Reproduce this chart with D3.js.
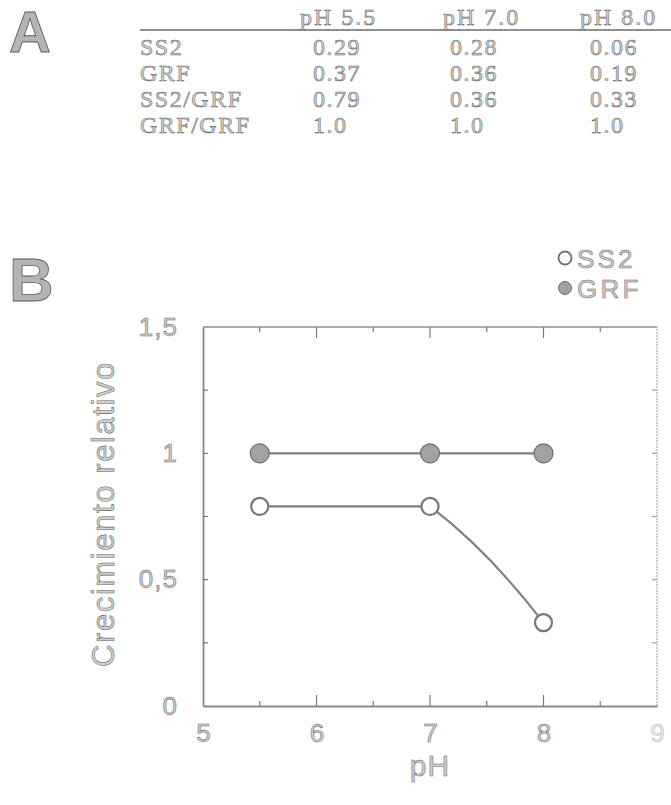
<!DOCTYPE html>
<html>
<head>
<meta charset="utf-8">
<script src="https://cdn.jsdelivr.net/npm/d3@7"></script>
<style>
  html, body { margin: 0; padding: 0; background: #fff; }
  svg { display: block; }
</style>
</head>
<body>
<svg id="fig" width="671" height="805"></svg>
<script>
// Panel A: growth table
const tableColumns = ["pH 5.5", "pH 7.0", "pH 8.0"];
const tableRows = ["SS2", "GRF", "SS2/GRF", "GRF/GRF"];
const tableValues = [
  ["0.29", "0.28", "0.06"],
  ["0.37", "0.36", "0.19"],
  ["0.79", "0.36", "0.33"],
  ["1.0", "1.0", "1.0"]
];

// Panel B: relative growth vs pH
const phValues = [5.5, 7.0, 8.0];
const ss2Values = [0.79, 0.79, 0.33];
const grfValues = [1.0, 1.0, 1.0];
const xTicks = [5, 6, 7, 8, 9];
const yTicks = [0, 0.5, 1, 1.5];

const svg = d3.select("#fig");
const serif = "'Liberation Serif', 'Times New Roman', serif";
const sans = "'Liberation Sans', Arial, sans-serif";

// outlined, light-filled text
function inked(sel, fill, stroke, sw) {
  return sel.attr("fill", fill).attr("stroke", stroke).attr("stroke-width", sw);
}
const TXT_FILL = "#cfcfcf", TXT_STROKE = "#6a6a6a", TXT_SW = 0.55;

// ---------- Panel A ----------
inked(svg.append("text").attr("x", 9).attr("y", 52)
  .attr("font-family", sans).attr("font-weight", "bold").attr("font-size", 58)
  .text("A"), "#b4b4b4", "#5a5a5a", 0.8);

const colX = [300, 443, 580];
const valX = [313, 450, 590];
const rowY = [55, 81, 107, 133];

svg.append("line").attr("x1", 140).attr("x2", 671).attr("y1", 30).attr("y2", 30)
  .attr("stroke", "#6a6a6a").attr("stroke-width", 1.6);

svg.append("g").selectAll("text").data(tableColumns).join("text")
  .attr("x", (d, i) => colX[i]).attr("y", 25)
  .attr("font-family", serif).attr("font-size", 24).attr("letter-spacing", 2)
  .text(d => d)
  .call(s => inked(s, TXT_FILL, TXT_STROKE, TXT_SW));

const rowsG = svg.append("g");
rowsG.selectAll("text.rl").data(tableRows).join("text").attr("class", "rl")
  .attr("x", 140).attr("y", (d, i) => rowY[i])
  .attr("font-family", serif).attr("font-size", 24).attr("letter-spacing", 1.5)
  .text(d => d)
  .call(s => inked(s, TXT_FILL, TXT_STROKE, TXT_SW));

tableValues.forEach((row, r) => {
  rowsG.append("g").selectAll("text").data(row).join("text")
    .attr("x", (d, c) => valX[c]).attr("y", rowY[r])
    .attr("font-family", serif).attr("font-size", 24).attr("letter-spacing", 1.5)
    .text(d => d)
    .call(s => inked(s, TXT_FILL, TXT_STROKE, TXT_SW));
});

// ---------- Panel B ----------
inked(svg.append("text").attr("x", 9).attr("y", 301)
  .attr("font-family", sans).attr("font-weight", "bold").attr("font-size", 62)
  .text("B"), "#b4b4b4", "#5a5a5a", 0.8);

const margin = { left: 203, right: 657, top: 327, bottom: 706 };
const x = d3.scaleLinear().domain([5, 9]).range([margin.left, margin.right]);
const y = d3.scaleLinear().domain([0, 1.5]).range([margin.bottom, margin.top]);

const locale = d3.formatLocale({ decimal: ",", thousands: ".", grouping: [3], currency: ["", ""] });
const fmt = locale.format("~g");

// frame: top and right edges
const frame = svg.append("g");
frame.append("line").attr("x1", x(5)).attr("x2", x(9)).attr("y1", y(1.5)).attr("y2", y(1.5))
  .attr("stroke", "#8e8e8e").attr("stroke-width", 1.6);
frame.append("line").attr("x1", x(9)).attr("x2", x(9)).attr("y1", y(0)).attr("y2", y(1.5))
  .attr("stroke", "#bdbdbd").attr("stroke-width", 1.5).attr("stroke-dasharray", "2,1");

// left axis
const yAxis = d3.axisLeft(y).tickValues(yTicks).tickFormat(fmt).tickSizeInner(0).tickSizeOuter(0).tickPadding(25);
const gy = svg.append("g").attr("transform", `translate(${x(5)},0)`).call(yAxis);
gy.select(".domain").attr("stroke", "#8a8a8a").attr("stroke-width", 1.8);
gy.selectAll("text").attr("font-family", sans).attr("font-size", 26).attr("letter-spacing", 1)
  .call(s => inked(s, TXT_FILL, TXT_STROKE, TXT_SW));

// inward minor ticks on left and right edges
const yMinor = d3.range(0.25, 1.5, 0.25);
svg.append("g").selectAll("line").data(yMinor).join("line")
  .attr("x1", x(5)).attr("x2", x(5) + 5).attr("y1", d => y(d)).attr("y2", d => y(d))
  .attr("stroke", "#7a7a7a").attr("stroke-width", 1.2);
svg.append("g").selectAll("line").data(yMinor).join("line")
  .attr("x1", x(9)).attr("x2", x(9) - 5).attr("y1", d => y(d)).attr("y2", d => y(d))
  .attr("stroke", "#a0a0a0").attr("stroke-width", 1.2);

// bottom axis
const xAxis = d3.axisBottom(x).tickValues(xTicks).tickFormat(d3.format("d")).tickSizeInner(0).tickSizeOuter(0).tickPadding(18);
const gx = svg.append("g").attr("transform", `translate(0,${y(0)})`).call(xAxis);
gx.select(".domain").attr("stroke", "#8a8a8a").attr("stroke-width", 1.8);
gx.selectAll("text").attr("font-family", sans).attr("font-size", 26)
  .call(s => inked(s, TXT_FILL, TXT_STROKE, TXT_SW));
gx.selectAll(".tick").filter(d => d === 9).select("text")
  .attr("fill", "#ececec").attr("stroke", "#b4b4b4");

// inward ticks on bottom and top edges
const xMajor = [6, 7, 8];
const xMinor = [5.5, 6.5, 7.5, 8.5];
const tickG = svg.append("g").attr("stroke", "#7a7a7a").attr("stroke-width", 1.2);
[[xMajor, 11], [xMinor, 5]].forEach(([vals, len]) => {
  tickG.append("g").selectAll("line").data(vals).join("line")
    .attr("x1", d => x(d)).attr("x2", d => x(d)).attr("y1", y(0)).attr("y2", y(0) - len);
  tickG.append("g").selectAll("line").data(vals).join("line")
    .attr("x1", d => x(d)).attr("x2", d => x(d)).attr("y1", y(1.5)).attr("y2", y(1.5) + len);
});

// axis titles
inked(svg.append("text").attr("x", x(7)).attr("y", 776).attr("text-anchor", "middle")
  .attr("font-family", sans).attr("font-size", 30).attr("letter-spacing", 1).text("pH"),
  TXT_FILL, TXT_STROKE, TXT_SW);
inked(svg.append("text")
  .attr("transform", `translate(114,514) rotate(-90)`)
  .attr("text-anchor", "middle")
  .attr("font-family", sans).attr("font-size", 31).attr("letter-spacing", 1.6)
  .text("Crecimiento relativo"), TXT_FILL, TXT_STROKE, TXT_SW);

// series lines
const pts = vals => phValues.map((p, i) => [x(p), y(vals[i])]);
svg.append("path").attr("d", d3.line()(pts(grfValues)))
  .attr("fill", "none").attr("stroke", "#808080").attr("stroke-width", 2.2);

// SS2: flat to pH 7, then a gently bowed fall to pH 8
const [s0, s1, s2] = pts(ss2Values);
const ssPath = d3.path();
ssPath.moveTo(s0[0], s0[1]);
ssPath.lineTo(s1[0], s1[1]);
const third = (s2[0] - s1[0]) / 3;
ssPath.bezierCurveTo(s1[0] + third, s1[1] + third * 0.75,
                     s2[0] - third, s2[1] - third * 1.3,
                     s2[0], s2[1]);
svg.append("path").attr("d", ssPath.toString())
  .attr("fill", "none").attr("stroke", "#808080").attr("stroke-width", 2.2);

// markers
svg.append("g").selectAll("circle").data(pts(grfValues)).join("circle")
  .attr("cx", d => d[0]).attr("cy", d => d[1]).attr("r", 9.5)
  .attr("fill", "#a2a2a2").attr("stroke", "#6e6e6e").attr("stroke-width", 1.2);
svg.append("g").selectAll("circle").data(pts(ss2Values)).join("circle")
  .attr("cx", d => d[0]).attr("cy", d => d[1]).attr("r", 8.5)
  .attr("fill", "#fff").attr("stroke", "#777").attr("stroke-width", 2.2);

// legend
const legend = svg.append("g");
const legItems = [["SS2", "#fff", 258], ["GRF", "#a2a2a2", 288]];
legItems.forEach(([name, fill, cy]) => {
  legend.append("circle").attr("cx", 565).attr("cy", cy).attr("r", 6.5)
    .attr("fill", fill).attr("stroke", "#707070").attr("stroke-width", fill === "#fff" ? 1.8 : 1);
  inked(legend.append("text").attr("x", 577).attr("y", cy + 10)
    .attr("font-family", sans).attr("font-size", 26).attr("letter-spacing", 3.2).text(name),
    TXT_FILL, TXT_STROKE, TXT_SW);
});
</script>
</body>
</html>
